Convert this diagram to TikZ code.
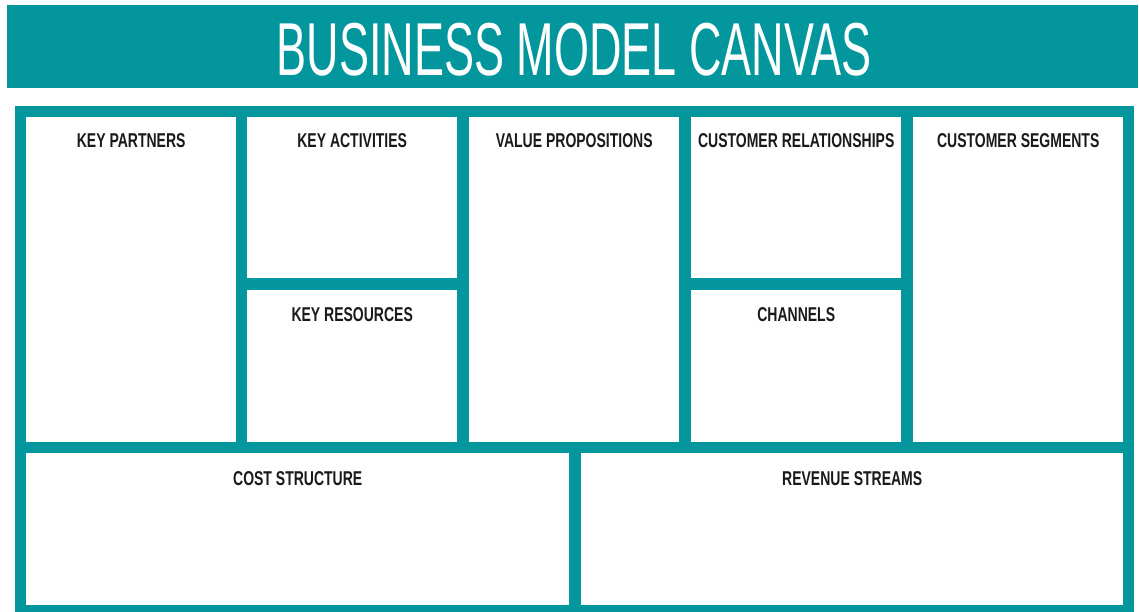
\documentclass[tikz,border=0pt]{standalone}
\usepackage{fontspec}
\setmainfont{Liberation Sans}
\usetikzlibrary{positioning}
\definecolor{canvasteal}{RGB}{3,151,157}
\definecolor{labelink}{RGB}{26,26,26}

\tikzset{
  cell/.style={fill=white, inner sep=0pt, anchor=north west},
  celltitle/.style={anchor=base, text=labelink, inner sep=0pt, font=\fontsize{20}{20}\selectfont\bfseries},
}
\newcommand{\narrow}[2][0.7]{\scalebox{#1}[1]{#2}}

\begin{document}
\begin{tikzpicture}[x=1pt,y=-1pt]
\useasboundingbox (0,0) rectangle (1139,612);

% Header
\fill[canvasteal] (7,5) rectangle (1138,88);
\node[anchor=base, inner sep=0pt, text=white, font=\fontsize{75}{75}\selectfont] (title) at (574,76) {\narrow[0.6]{BUSINESS MODEL CANVAS}};

% Frame
\fill[canvasteal] (15,106) rectangle (1134,614);

% Tall cells
\foreach \x/\name/\label in {26/partners/KEY PARTNERS, 469/value/VALUE PROPOSITIONS, 913/segments/CUSTOMER SEGMENTS} {
  \node[cell, minimum width=210pt, minimum height=325pt] (\name) at (\x,117) {};
  \node[celltitle] (\name-t) at ([yshift=-31pt]\name.north) {\narrow{\label}};
}

% Split cells
\foreach \x/\y/\h/\name/\label in {247/117/161/activities/KEY ACTIVITIES, 247/290/152/resources/KEY RESOURCES,
    691/117/161/relationships/CUSTOMER RELATIONSHIPS, 691/290/152/channels/CHANNELS} {
  \node[cell, minimum width=210pt, minimum height=\h pt] (\name) at (\x,\y) {};
  \node[celltitle] (\name-t) at ([yshift=-31pt]\name.north) {\narrow{\label}};
}

% Bottom row
\node[cell, minimum width=543pt, minimum height=152pt] (cost) at (26,453) {};
\node[celltitle] (cost-t) at ([yshift=-32pt]cost.north) {\narrow{COST STRUCTURE}};
\node[cell, minimum width=542pt, minimum height=152pt] (revenue) at (581,453) {};
\node[celltitle] (revenue-t) at ([yshift=-32pt]revenue.north) {\narrow{REVENUE STREAMS}};
\end{tikzpicture}
\end{document}
